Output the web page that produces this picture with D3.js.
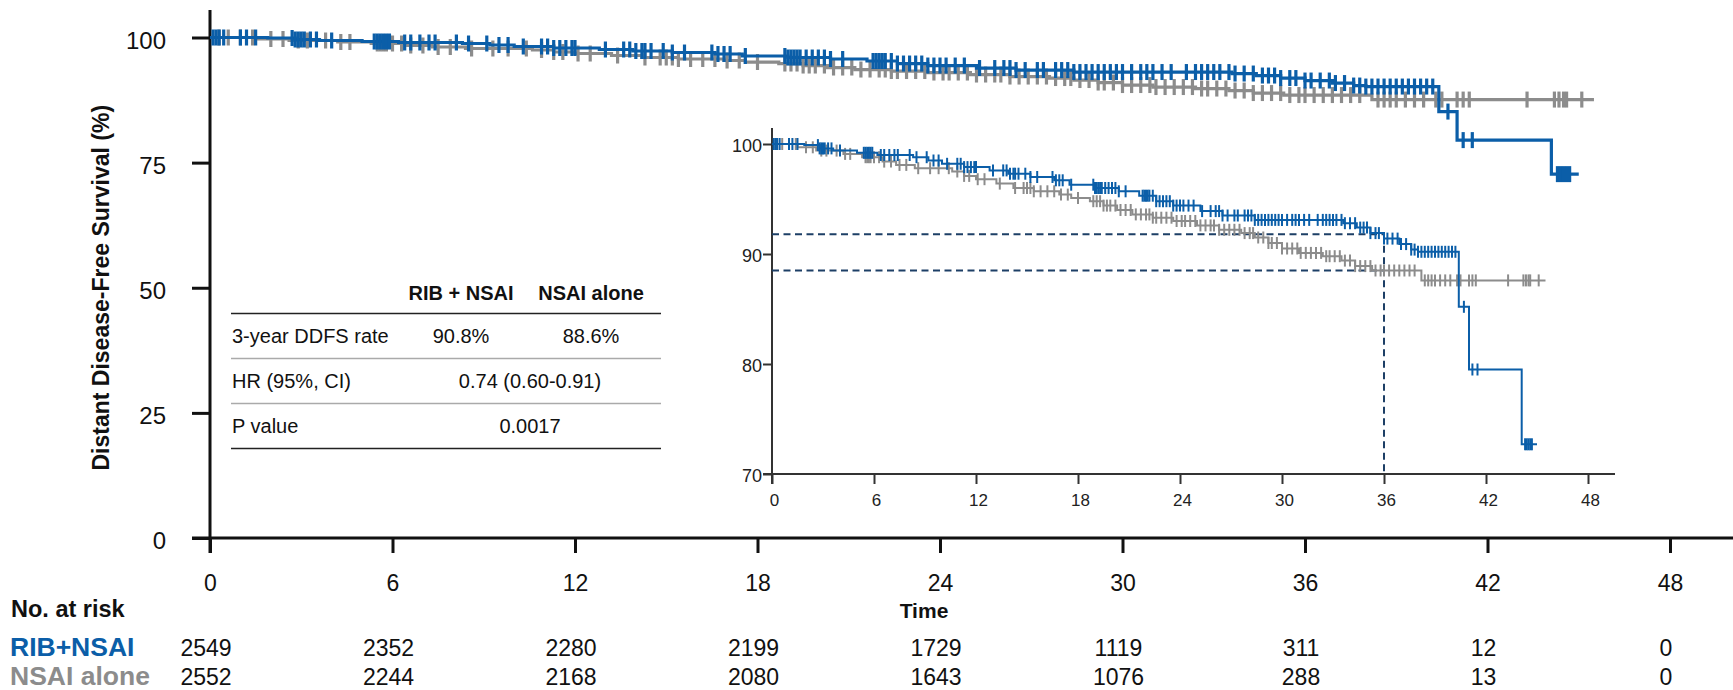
<!DOCTYPE html>
<html><head><meta charset="utf-8">
<script src="https://cdn.jsdelivr.net/npm/d3@7/dist/d3.min.js"></script>
<style>
body{margin:0;background:#fff}
svg{display:block;font-family:"Liberation Sans",Arial,Helvetica,sans-serif}
</style>
</head><body>
<svg id="chart" width="1733" height="690"></svg>
<script>
// ---------------- DATA ----------------
const monthTicks = [0, 6, 12, 18, 24, 30, 36, 42, 48];
const mainYTicks = [0, 25, 50, 75, 100];
const insetYTicks = [70, 80, 90, 100];

const seriesNames = ["RIB+NSAI", "NSAI alone"];

// Kaplan-Meier steps [month, survival %]
const ribSteps = [
  [0,100],[1.9,99.9],[2.8,99.6],[3.6,99.4],[5.0,99.2],[6.2,99.0],[8.3,98.8],[9.2,98.5],
  [10.0,98.2],[11.3,97.9],[12.8,97.6],[13.9,97.3],[15.2,97.0],[16.6,96.7],[17.5,96.3],
  [19.0,96.0],[20.4,95.7],[21.6,95.3],[22.6,94.8],[23.6,94.4],[25.2,93.9],[26.5,93.5],
  [28.4,93.1],[33.6,92.8],[34.4,92.4],[35.2,91.9],[36.0,91.4],[36.9,90.9],[37.6,90.4],
  [38.0,90.2],[40.4,85.2],[41.0,79.5],[44.1,72.7]
];
const ribEnd = 45.0;
const nsaiSteps = [
  [0,100],[1.5,99.7],[2.6,99.4],[4.2,99.1],[5.3,98.8],[6.5,98.4],[7.3,98.1],[8.4,97.8],
  [10.6,97.5],[11.3,97.1],[12.0,96.8],[13.2,96.4],[14.2,96.0],[15.4,95.7],[16.9,95.4],
  [17.6,95.1],[18.7,94.8],[19.5,94.4],[20.3,94.0],[21.2,93.6],[22.4,93.3],[23.6,93.0],
  [25.0,92.6],[26.3,92.2],[27.6,91.9],[28.4,91.5],[29.2,91.0],[30.0,90.5],[31.0,90.1],
  [32.4,89.8],[33.5,89.4],[34.3,88.9],[35.3,88.5],[38.2,87.6]
];
const nsaiEnd = 45.5;

// censoring times (months)
const ribCensor = [0.1,0.2,0.3,0.45,1.0,1.2,1.5,2.7,2.8,2.9,3.0,3.1,3.3,3.5,4.0,5.4,5.5,5.6,5.7,5.8,5.9,
  6.4,6.6,6.9,7.2,7.4,8.1,8.5,9.1,9.5,9.8,10.3,10.9,11.1,11.3,11.5,11.7,11.9,12.0,13.0,13.6,13.8,
  14.0,14.2,14.3,14.5,14.9,15.2,15.6,16.5,16.7,16.9,17.1,17.6,18.9,19.0,19.1,19.2,19.3,19.4,19.6,
  19.8,20.0,20.2,20.4,20.8,21.8,21.9,22.0,22.1,22.2,22.4,22.6,22.8,23.0,23.2,23.4,23.6,23.8,24.0,
  24.2,24.5,24.8,25.3,25.8,26.1,26.3,26.5,26.8,27.2,27.4,27.8,28.0,28.2,28.4,28.6,28.8,29.0,29.2,
  29.4,29.6,29.8,30.0,30.3,30.6,30.8,31.0,31.3,31.6,32.1,32.4,32.6,32.8,33.0,33.2,33.5,33.7,34.0,
  34.3,34.6,34.8,35.0,35.2,35.5,35.7,36.0,36.2,36.5,36.8,37.0,37.3,37.6,37.8,38.0,38.2,38.4,38.6,
  38.8,39.0,39.2,39.4,39.6,39.8,40.0,40.2,40.7,41.2,41.5,44.3,44.4,44.5,44.6,44.7];
const nsaiCensor = [0.3,0.6,1.0,1.4,2.0,2.4,2.9,3.2,3.8,4.3,4.6,5.5,5.6,5.7,5.8,6.0,6.3,6.6,7.0,7.5,
  7.9,8.6,9.3,9.8,10.4,10.9,11.3,11.6,12.1,12.5,13.4,14.3,14.8,15.0,15.2,15.4,15.8,16.2,16.6,17.0,
  17.4,18.0,18.9,19.1,19.3,19.5,19.7,19.9,20.2,20.5,20.8,21.1,21.4,21.7,22.0,22.2,22.4,22.6,22.9,
  23.2,23.5,23.8,24.1,24.3,24.6,24.9,25.2,25.5,25.8,26.0,26.3,26.6,26.9,27.2,27.5,27.8,28.1,28.3,
  28.6,28.9,29.2,29.4,29.7,30.0,30.3,30.6,30.9,31.1,31.4,31.7,32.0,32.3,32.6,32.8,33.1,33.4,33.7,
  34.0,34.3,34.6,34.9,35.2,35.5,35.8,36.0,36.3,36.6,36.9,37.2,37.5,37.8,38.4,38.6,38.8,39.0,39.3,
  39.6,39.9,40.3,40.5,41.0,41.2,41.4,43.3,44.2,44.35,44.5,44.6,45.1];

// 3-year landmark (inset dashed guides)
const landmarkMonth = 36;
const landmarkRates = [91.8, 88.5];

// Numbers at risk
const riskRib  = [2549, 2352, 2280, 2199, 1729, 1119, 311, 12, 0];
const riskNsai = [2552, 2244, 2168, 2080, 1643, 1076, 288, 13, 0];

// Summary table
const tableHeader = ["RIB + NSAI", "NSAI alone"];
const tableRowLabels = ["3-year DDFS rate", "HR (95%, CI)", "P value"];
const ddfsRates = ["90.8%", "88.6%"];
const hrText = "0.74 (0.60-0.91)";
const pText = "0.0017";

// ---------------- DRAWING ----------------
const BLUE = "#0b5ea8", GRAY = "#8c8c8c", DASH = "#1d3f66";
const svg = d3.select("#chart");
const W = 1733;

const x = d3.scaleLinear().domain([0, 48]).range([210, 1670]);
const y = d3.scaleLinear().domain([0, 100]).range([538, 37.5]);

const xi = d3.scaleLinear().domain([0, 48]).range([772, 1588]);
const yi = d3.scaleLinear().domain([70, 100]).range([474, 144]);

function stepPts(steps, end){ return steps.concat([[end, steps[steps.length-1][1]]]); }
function survAt(steps, t){ let v = steps[0][1]; for (const s of steps){ if (s[0] <= t) v = s[1]; } return v; }

const series = [
  {steps: nsaiSteps, end: nsaiEnd, censor: nsaiCensor, color: GRAY},
  {steps: ribSteps, end: ribEnd, censor: ribCensor, color: BLUE}
];

// ---- main axes ----
const gAxes = svg.append("g");
gAxes.append("line").attr("x1", x(0) - 18).attr("x2", W).attr("y1", y(0)).attr("y2", y(0))
  .attr("stroke", "#111").attr("stroke-width", 3);
gAxes.append("line").attr("x1", x(0)).attr("x2", x(0)).attr("y1", 10).attr("y2", y(0) + 15)
  .attr("stroke", "#111").attr("stroke-width", 3);

const xAx = svg.append("g").attr("transform", `translate(0,${y(0)})`)
  .call(d3.axisBottom(x).tickValues(monthTicks).tickSize(15).tickSizeOuter(0).tickPadding(22));
xAx.select(".domain").remove();
xAx.selectAll(".tick line").attr("stroke", "#111").attr("stroke-width", 3);
xAx.selectAll(".tick text").attr("font-size", 23).attr("fill", "#111").attr("font-family", null);

const yAx = svg.append("g").attr("transform", `translate(${x(0)},0)`)
  .call(d3.axisLeft(y).tickValues(mainYTicks).tickSize(18).tickSizeOuter(0).tickPadding(26));
yAx.select(".domain").remove();
yAx.selectAll(".tick line").attr("stroke", "#111").attr("stroke-width", 3);
yAx.selectAll(".tick text").attr("font-size", 24).attr("fill", "#111").attr("font-family", null).attr("dy", "0.45em");

// axis titles
svg.append("text").attr("transform", `translate(109,${(y(0)+y(100))/2}) rotate(-90)`)
  .attr("text-anchor", "middle").attr("font-weight", "bold").attr("font-size", 23).attr("fill", "#111")
  .text("Distant Disease-Free Survival (%)");
svg.append("text").attr("x", (x(0)+x(48))/2 - 16).attr("y", 618).attr("text-anchor", "middle")
  .attr("font-weight", "bold").attr("font-size", 21).attr("fill", "#111").text("Time");

// ---- main curves ----
const lineMain = d3.line().x(d => x(d[0])).y(d => y(d[1])).curve(d3.curveStepAfter);
series.forEach(s => {
  svg.append("path").attr("d", lineMain(stepPts(s.steps, s.end))).attr("fill", "none")
    .attr("stroke", s.color).attr("stroke-width", 3.2);
  svg.append("g").selectAll("line").data(s.censor).join("line")
    .attr("x1", d => x(d)).attr("x2", d => x(d))
    .attr("y1", d => y(survAt(s.steps, d)) - 8).attr("y2", d => y(survAt(s.steps, d)) + 8)
    .attr("stroke", s.color).attr("stroke-width", 3.2);
});

// ---- table ----
const tL = 231, tR = 661, cA = 461, cB = 591, cM = 530;
const tg = svg.append("g").attr("fill", "#111");
tg.selectAll("text.h").data(tableHeader).join("text").attr("class", "h")
  .attr("x", (d, i) => i ? cB : cA).attr("y", 300).attr("text-anchor", "middle")
  .attr("font-weight", "bold").attr("font-size", 20).text(d => d);
const rowBase = [343, 388, 433];
tg.selectAll("text.r").data(tableRowLabels).join("text").attr("class", "r")
  .attr("x", tL + 1).attr("y", (d, i) => rowBase[i]).attr("font-size", 20).text(d => d);
tg.selectAll("text.v").data(ddfsRates).join("text").attr("class", "v")
  .attr("x", (d, i) => i ? cB : cA).attr("y", rowBase[0]).attr("text-anchor", "middle").attr("font-size", 20).text(d => d);
tg.append("text").attr("x", cM).attr("y", rowBase[1]).attr("text-anchor", "middle").attr("font-size", 20).text(hrText);
tg.append("text").attr("x", cM).attr("y", rowBase[2]).attr("text-anchor", "middle").attr("font-size", 20).text(pText);
[[313.5, "#222", 1.6], [358.5, "#aaa", 1.3], [403.5, "#aaa", 1.3], [448.5, "#222", 1.6]].forEach(l => {
  svg.append("line").attr("x1", tL).attr("x2", tR).attr("y1", l[0]).attr("y2", l[0])
    .attr("stroke", l[1]).attr("stroke-width", l[2]);
});

// ---- inset ----
const ig = svg.append("g");
ig.append("line").attr("x1", xi(0) - 9).attr("x2", 1615).attr("y1", yi(70)).attr("y2", yi(70))
  .attr("stroke", "#333").attr("stroke-width", 2);
ig.append("line").attr("x1", xi(0)).attr("x2", xi(0)).attr("y1", 128).attr("y2", yi(70) + 10)
  .attr("stroke", "#333").attr("stroke-width", 2);
const xiAx = ig.append("g").attr("transform", `translate(0,${yi(70)})`)
  .call(d3.axisBottom(xi).tickValues(monthTicks).tickSize(10).tickSizeOuter(0).tickPadding(10));
xiAx.select(".domain").remove();
xiAx.selectAll(".tick line").attr("stroke", "#333").attr("stroke-width", 2);
xiAx.selectAll(".tick text").attr("font-size", 17).attr("fill", "#222").attr("font-family", null).attr("dx", 2);
const yiAx = ig.append("g").attr("transform", `translate(${xi(0)},0)`)
  .call(d3.axisLeft(yi).tickValues(insetYTicks).tickSize(9).tickSizeOuter(0).tickPadding(1));
yiAx.select(".domain").remove();
yiAx.selectAll(".tick line").attr("stroke", "#333").attr("stroke-width", 2);
yiAx.selectAll(".tick text").attr("font-size", 18).attr("fill", "#222").attr("font-family", null).attr("dy", "0.4em");

// dashed guides
landmarkRates.forEach(r => {
  ig.append("line").attr("x1", xi(0)).attr("x2", xi(landmarkMonth)).attr("y1", yi(r)).attr("y2", yi(r))
    .attr("stroke", DASH).attr("stroke-width", 2).attr("stroke-dasharray", "7,4.5");
});
ig.append("line").attr("x1", xi(landmarkMonth)).attr("x2", xi(landmarkMonth))
  .attr("y1", yi(d3.max(landmarkRates))).attr("y2", yi(70))
  .attr("stroke", DASH).attr("stroke-width", 2).attr("stroke-dasharray", "7,4.5");

const lineInset = d3.line().x(d => xi(d[0])).y(d => yi(d[1])).curve(d3.curveStepAfter);
series.forEach(s => {
  ig.append("path").attr("d", lineInset(stepPts(s.steps, s.end))).attr("fill", "none")
    .attr("stroke", s.color).attr("stroke-width", 2);
  ig.append("g").selectAll("line").data(s.censor).join("line")
    .attr("x1", d => xi(d)).attr("x2", d => xi(d))
    .attr("y1", d => yi(survAt(s.steps, d)) - 6).attr("y2", d => yi(survAt(s.steps, d)) + 6)
    .attr("stroke", s.color).attr("stroke-width", 2);
});

// ---- numbers at risk ----
svg.append("text").attr("x", 11).attr("y", 617).attr("font-weight", "bold").attr("font-size", 23.5)
  .attr("fill", "#111").text("No. at risk");
const riskRows = [{name: seriesNames[0], vals: riskRib, color: BLUE, yb: 656},
                  {name: seriesNames[1], vals: riskNsai, color: GRAY, yb: 685}];
riskRows.forEach(r => {
  svg.append("text").attr("x", 10).attr("y", r.yb).attr("font-weight", "bold").attr("font-size", 26.5)
    .attr("fill", r.color).text(r.name);
  svg.append("g").selectAll("text").data(r.vals).join("text")
    .attr("x", (d, i) => x(monthTicks[i]) - 4).attr("y", r.yb).attr("text-anchor", "middle")
    .attr("font-size", 23).attr("fill", "#111").text(d => d);
});
</script>
</body></html>
